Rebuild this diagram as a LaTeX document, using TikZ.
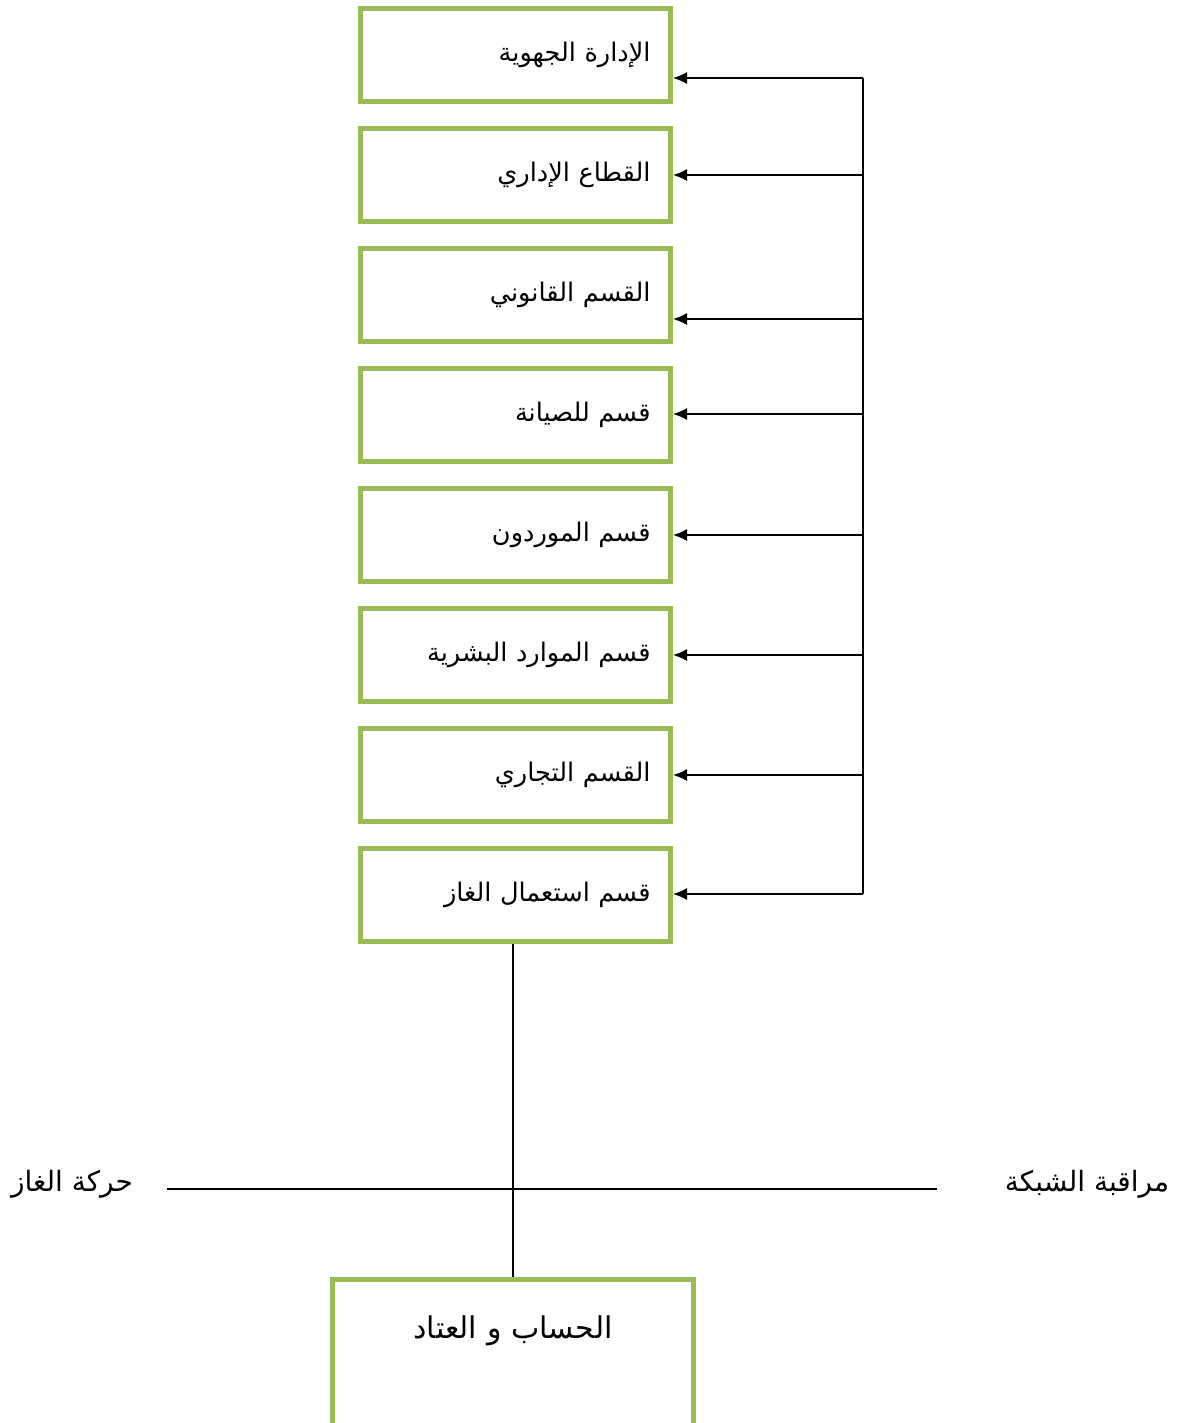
\documentclass[tikz,border=0pt]{standalone}
\usepackage{fontspec}
\usepackage{tikz}
\usetikzlibrary{arrows.meta}
\newfontfamily\arabicfont[Script=Arabic]{DejaVu Sans}
\TeXXeTstate=1
\definecolor{boxgreen}{RGB}{155,187,89}

\begin{document}
\begin{tikzpicture}[x=0.5pt,y=-0.5pt,>={Latex[length=7pt,width=6pt]},line width=0.7pt,node distance=60pt,font=\arabicfont\fontsize{12.8}{15}\selectfont]
 \tikzstyle{service}=[draw=boxgreen,line width=2.5pt,minimum height=46.5pt,text width=135pt,inner xsep=10pt,align=right]
 \tikzstyle{flux}=[inner sep=2pt,font=\arabicfont\fontsize{14}{16}\selectfont]

   \useasboundingbox (0,0) rectangle (1184,1423);
   \clip (0,0) rectangle (1184,1423);

   \node[service] (d1) at (515.5,55) {\beginR الإدارة الجهوية\endR};
   \node[service] (d2) [below of = d1] {\beginR القطاع الإداري\endR};
   \node[service] (d3) [below of = d2] {\beginR القسم القانوني\endR};
   \node[service] (d4) [below of = d3] {\beginR قسم للصيانة\endR};
   \node[service] (d5) [below of = d4] {\beginR قسم الموردون\endR};
   \node[service] (d6) [below of = d5] {\beginR قسم الموارد البشرية\endR};
   \node[service] (d7) [below of = d6] {\beginR القسم التجاري\endR};
   \node[service] (d8) [below of = d7] {\beginR قسم استعمال الغاز\endR};

   \node[service,anchor=north,text width=160.5pt,align=center,minimum height=0pt,text height=9pt,text depth=60pt,inner ysep=20.5pt,font=\arabicfont\fontsize{15}{17}\selectfont] (calc) at (513,1277) {\beginR الحساب و العتاد\endR};

   \node[flux] (gaz) at (72,1184) {\beginR حركة الغاز\endR};
   \node[flux] (reseau) at (1087,1184) {\beginR مراقبة الشبكة\endR};

   \coordinate (b1) at (863,78);
   \coordinate (b2) at (863,175);
   \coordinate (b3) at (863,319);
   \coordinate (b4) at (863,414);
   \coordinate (b5) at (863,535);
   \coordinate (b6) at (863,655);
   \coordinate (b7) at (863,775);
   \coordinate (b8) at (863,894);
   \coordinate (h1) at (167,1189);
   \coordinate (h2) at (937,1189);

   \draw (b1) -- (b8);
   \path[->]
   (b1) edge (b1 -| d1.east)
   (b2) edge (b2 -| d2.east)
   (b3) edge (b3 -| d3.east)
   (b4) edge (b4 -| d4.east)
   (b5) edge (b5 -| d5.east)
   (b6) edge (b6 -| d6.east)
   (b7) edge (b7 -| d7.east)
   (b8) edge (b8 -| d8.east);

   \draw (calc.north |- d8.south) -- (calc.north);
   \draw (h1) -- (h2);

\end{tikzpicture}
\end{document}
